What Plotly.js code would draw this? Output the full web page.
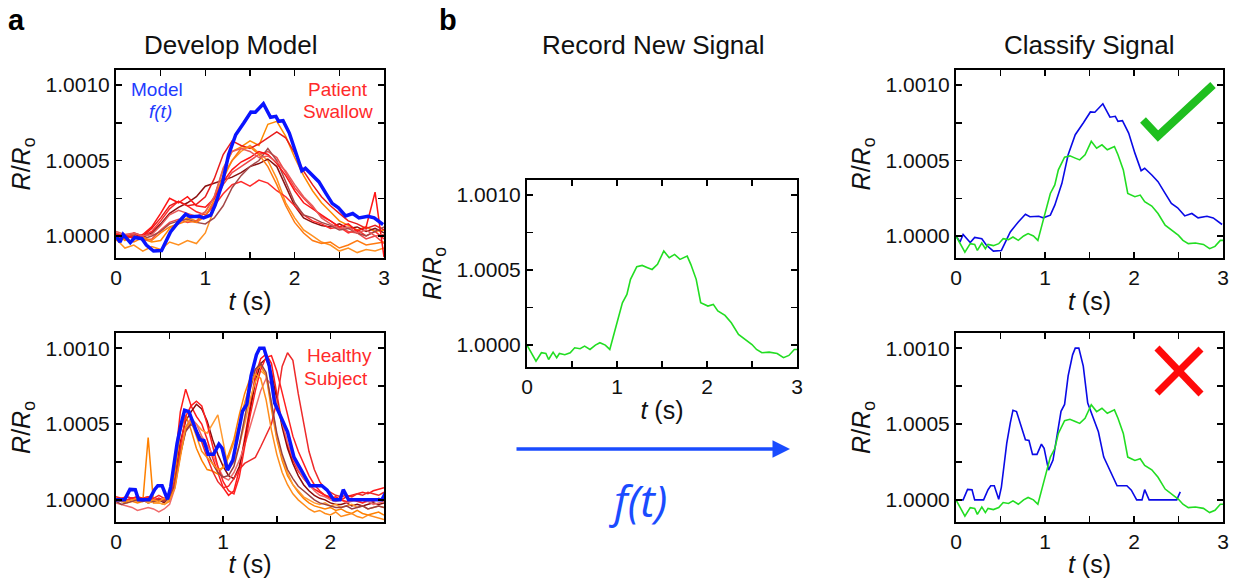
<!DOCTYPE html>
<html><head><meta charset="utf-8">
<script src="https://cdn.plot.ly/plotly-3.0.1.min.js"></script>
<style>html,body{margin:0;padding:0;background:#fff}#chart{width:1233px;height:578px}</style>
</head><body><div id="chart"></div><script>
// ---------- DATA (values in units of 1e-4 above R/Ro = 1) ----------
// Panel a, top: patient swallow recordings
const tA1 = [0,0.1,0.2,0.3,0.4,0.5,0.6,0.7,0.8,0.9,1.0,1.1,1.2,1.3,1.4,1.5,1.6,1.7,1.8,1.9,2.0,2.1,2.2,2.3,2.4,2.5,2.6,2.7,2.8,2.9,3.0];
const patient1 = [0.2,-0.3,0.1,-0.2,-0.4,-0.3,0.5,0.9,1.2,1.0,1.6,2.6,4.4,5.6,5.9,6.3,6.0,7.4,7.6,6.6,5.2,4.0,3.0,2.2,1.6,1.0,0.7,0.4,0.6,0.3,0.4];
const patient2 = [-0.2,-0.8,-0.6,-1.0,-0.7,-0.9,-0.4,-0.6,-0.3,-0.5,0.2,1.8,3.8,5.0,5.6,6.0,5.5,5.0,3.8,2.2,1.2,0.4,0.0,-0.4,-0.6,-1.0,-0.8,-1.1,-0.9,-1.0,-0.8];
const patient3 = [0.1,0.0,0.1,-0.1,0.2,0.8,1.5,1.9,2.2,2.6,3.3,3.5,3.7,3.9,4.2,4.6,4.8,5.1,4.6,3.3,2.0,1.2,0.9,0.7,0.6,0.8,0.5,0.6,0.3,0.5,0.2];
const patient4 = [-0.1,0.1,-0.2,0.0,0.3,1.0,1.8,2.3,2.0,1.6,1.4,2.0,2.8,3.4,3.6,3.3,3.7,3.5,3.0,2.6,2.0,1.4,1.0,0.8,0.5,0.6,0.2,0.4,0.0,0.3,-0.2];
const patient5 = [0.0,-0.2,0.2,0.0,0.5,1.2,2.0,2.3,2.0,2.1,2.6,3.8,5.4,6.3,6.0,5.8,6.1,6.5,6.9,6.5,5.5,4.3,3.4,2.6,2.0,1.5,1.0,0.8,0.5,0.7,0.4];
const patient6 = [0.2,0.0,0.1,-0.3,-0.2,0.4,0.9,1.1,0.9,1.0,1.3,2.2,3.4,4.2,4.6,5.0,5.4,5.6,5.2,4.2,3.2,2.5,1.9,1.3,1.0,0.6,0.3,0.2,-0.2,0.0,-0.5];
const patient7 = [0.0,-0.1,0.0,-0.2,0.0,0.3,0.8,1.0,1.1,0.9,0.8,1.2,2.0,3.2,4.0,4.6,5.0,5.8,5.0,3.6,2.2,1.4,1.2,0.9,0.7,0.4,0.5,0.2,0.0,0.3,0.6];
const patient8 = [-0.3,-0.2,-0.4,-0.1,-0.3,0.2,0.6,0.8,1.0,0.9,1.3,2.4,4.0,5.0,5.8,5.9,5.4,4.6,3.4,2.0,0.9,0.2,-0.3,-0.5,-0.4,-0.8,-0.6,-0.3,-0.6,-0.5,-0.4];
const patient9 = [0.1,0.0,-0.1,0.1,0.6,1.5,2.5,2.2,2.6,2.0,1.9,2.5,3.6,4.4,4.9,5.2,5.6,5.4,4.8,4.0,3.0,2.2,1.8,1.4,1.0,0.6,0.8,0.3,0.6,2.9,-1.4];
const patient10 = [0.3,0.1,0.2,0.0,0.1,0.7,1.4,1.7,1.5,1.3,1.6,2.6,4.5,5.6,5.8,5.6,5.2,5.3,4.9,4.3,3.4,2.6,2.0,1.2,0.8,0.5,0.6,0.2,0.4,0.0,0.1];
const patientSeries = [patient1,patient2,patient3,patient4,patient5,patient6,patient7,patient8,patient9,patient10];
const patientColors = ['#ff8a00','#ff9020','#8b1010','#ff2a2a','#e81c1c','#f04848','#a34848','#ff7a10','#ff1414','#e85a5a'];

// Model f(t) for patient swallow
const tModelP = [0,0.045,0.08,0.16,0.21,0.29,0.34,0.42,0.51,0.61,0.70,0.78,0.83,0.93,0.98,1.06,1.11,1.19,1.26,1.34,1.43,1.51,1.56,1.65,1.73,1.79,1.82,1.87,1.94,2.01,2.08,2.12,2.20,2.27,2.35,2.42,2.49,2.57,2.65,2.72,2.82,2.89,2.99];
const modelP = [0,-0.4,0.1,-0.44,-0.1,-0.18,-0.6,-1.0,-0.96,0.27,0.93,1.44,1.27,1.31,1.2,1.38,2.04,3.49,5.38,6.71,7.49,8.22,8.2,8.76,7.87,7.93,7.6,7.64,6.82,5.49,4.33,4.49,4.04,3.6,2.82,2.16,1.87,1.33,1.49,1.2,1.31,1.2,0.76];

// Panel a, bottom: healthy subject recordings
const tA2 = [0,0.05,0.1,0.15,0.2,0.25,0.3,0.35,0.4,0.45,0.5,0.55,0.6,0.65,0.7,0.75,0.8,0.85,0.9,0.95,1.0,1.05,1.1,1.15,1.2,1.25,1.3,1.35,1.4,1.45,1.5,1.55,1.6,1.65,1.7,1.75,1.8,1.85,1.9,1.95,2.0,2.05,2.1,2.15,2.2,2.25,2.3,2.35,2.4,2.45,2.5];
const healthy1 = [0.2,0.1,0.2,0.1,0.2,0.1,0.2,0.0,0.1,-0.1,0.3,2.5,5.8,7.3,6.2,5.5,5.0,4.0,2.8,1.8,0.8,0.3,0.6,2.0,4.0,6.2,8.2,9.3,9.6,9.0,7.0,5.0,3.6,2.6,1.9,1.4,1.0,0.7,0.5,0.3,0.1,0.2,0.0,0.2,0.3,0.4,0.5,0.4,0.6,0.7,0.8];
const healthy2 = [0.0,-0.1,0.0,0.1,-0.1,0.0,-0.2,-0.1,0.0,-0.2,0.2,1.5,3.8,5.2,5.8,6.3,6.0,5.2,4.0,3.0,2.2,1.6,1.4,2.2,3.8,5.8,7.8,9.0,9.3,8.4,6.5,4.8,3.4,2.4,1.6,1.0,0.6,0.3,0.1,0.0,-0.2,-0.3,-0.3,-0.2,-0.4,-0.3,-0.4,-0.3,-0.2,-0.3,-0.2];
const healthy3 = [0.0,-0.1,-0.2,-0.1,-0.2,-0.1,4.1,-0.2,-0.2,-0.3,-0.1,1.8,4.5,5.6,4.6,3.4,2.6,2.0,1.9,1.7,2.2,3.0,4.0,5.6,7.0,8.0,8.6,8.8,8.2,6.0,4.0,2.6,1.6,1.0,0.5,0.1,-0.2,-0.4,-0.5,-0.6,-0.5,-0.7,-0.6,-0.8,-0.9,-0.7,-0.9,-1.0,-0.9,-0.8,-1.0];
const healthy4 = [0.0,0.1,-0.1,0.0,-0.1,0.0,-0.2,-0.1,-0.2,-0.3,0.0,1.0,3.0,4.6,5.2,5.0,4.6,4.4,5.0,5.6,3.8,2.0,2.5,3.6,5.0,6.6,7.8,8.5,8.2,6.4,4.2,2.8,1.8,1.0,0.6,0.2,0.0,-0.2,-0.3,-0.2,-0.4,-0.3,-0.5,-0.4,-0.3,-0.5,-0.4,-0.6,-0.5,-0.4,-0.5];
const healthy5 = [0.1,0.0,0.2,0.1,0.0,0.1,0.2,0.1,0.3,0.1,0.2,1.2,3.2,4.6,5.0,4.6,3.8,2.8,1.9,1.2,0.8,0.9,1.4,2.0,2.4,2.6,2.8,3.5,4.2,5.0,6.5,8.8,9.7,9.2,7.0,5.0,3.2,2.0,1.2,0.7,0.5,0.3,0.2,0.3,0.2,0.4,0.3,0.5,0.4,0.3,0.5];
const healthy6 = [-0.2,-0.3,-0.4,-0.5,-0.7,-0.6,-0.5,-0.6,-0.8,-0.6,-0.3,0.8,3.0,4.8,5.4,5.0,4.2,3.6,3.0,2.2,1.5,1.3,1.8,2.6,3.6,4.8,6.0,7.2,8.0,7.6,6.4,5.0,3.8,2.8,2.0,1.4,1.0,0.6,0.3,0.2,0.0,-0.1,0.0,-0.2,-0.1,0.0,-0.2,-0.1,-0.3,-0.2,-0.1];
const healthy7 = [0.0,0.1,0.0,0.1,0.2,0.0,0.1,0.0,0.1,0.0,0.2,1.0,3.5,5.5,6.2,6.5,6.2,5.0,3.5,2.2,1.2,0.6,0.4,1.5,3.5,5.5,7.2,8.6,9.4,9.5,8.5,7.0,5.5,4.2,3.2,2.4,1.6,1.0,0.6,0.3,0.2,0.1,0.0,-0.1,0.0,-0.1,-0.2,0.0,-0.1,0.1,0.0];
const healthy8 = [-0.1,-0.3,-0.2,-0.1,0.0,-0.1,0.0,-0.1,0.0,-0.1,0.1,1.0,3.0,4.5,5.0,4.6,4.0,3.2,2.4,1.8,1.5,1.6,2.2,3.6,5.4,7.2,8.6,9.0,8.4,6.4,4.4,3.0,2.0,1.4,0.9,0.6,0.3,0.0,-0.2,-0.3,-0.4,-0.5,-0.5,-0.4,-0.6,-0.5,-0.4,-0.6,-0.5,-0.4,-0.5];
const healthy9 = [0.1,0.0,-0.1,0.0,0.1,0.0,-0.1,0.0,-0.1,0.1,0.0,0.8,2.8,4.8,5.2,4.2,3.2,2.8,2.4,2.0,2.1,2.8,3.8,5.0,6.4,7.6,8.3,8.0,6.6,4.6,3.0,1.8,1.0,0.4,0.0,-0.3,-0.6,-0.8,-0.7,-0.9,-1.0,-0.8,-1.1,-1.0,-0.9,-1.1,-1.2,-1.0,-1.1,-1.2,-1.3];
const healthySeries = [healthy1,healthy2,healthy3,healthy4,healthy5,healthy6,healthy7,healthy8,healthy9];
const healthyColors = ['#ff1a1a','#8b0a0a','#ff8000','#ff9a30','#ee2a2a','#f06a6a','#ff2020','#9a4040','#ff8c1a'];

// Model f(t) for healthy subject
const tModelH = [0,0.08,0.13,0.18,0.21,0.31,0.36,0.39,0.43,0.48,0.51,0.57,0.61,0.64,0.68,0.73,0.78,0.82,0.86,0.91,0.96,0.99,1.04,1.09,1.13,1.18,1.22,1.26,1.31,1.34,1.38,1.43,1.48,1.53,1.60,1.66,1.71,1.75,1.81,1.92,1.97,2.03,2.09,2.12,2.17,2.48,2.52];
const modelH = [0,0,0.69,0.67,0,0,0.67,0.93,0.93,0.04,0.84,3.73,5.07,5.91,5.82,4.84,3.96,3.91,3.0,3.0,3.67,3.4,1.96,2.62,4.07,5.84,6.29,8.18,9.56,10,10,8.82,6.38,5.6,4.49,2.82,2.16,1.71,0.93,0.93,0.64,0,0,0.67,0,0,0.53];

// Panel b: new recorded signal
const tNew = [0,0.045,0.10,0.16,0.21,0.24,0.29,0.33,0.36,0.42,0.48,0.53,0.59,0.64,0.70,0.76,0.81,0.87,0.92,0.97,1.01,1.06,1.11,1.15,1.22,1.28,1.34,1.39,1.45,1.52,1.58,1.64,1.70,1.78,1.82,1.88,1.93,2.01,2.07,2.12,2.20,2.27,2.35,2.42,2.50,2.55,2.61,2.69,2.78,2.85,2.91,2.97,3.0];
const newSignal = [0,-0.51,-1.07,-0.51,-0.56,-0.96,-0.47,-0.84,-0.56,-0.64,-0.51,-0.18,-0.24,-0.07,-0.29,0,0.16,0,-0.29,0.82,1.71,2.82,3.38,4.38,5.22,5.31,5.16,5.04,5.38,6.27,5.82,6.04,5.71,5.93,5.38,4.38,2.82,2.6,2.71,2.27,1.98,1.49,0.71,0.38,0.04,-0.29,-0.51,-0.47,-0.56,-0.84,-0.69,-0.29,-0.29];

// ---------- helpers ----------
const toR = arr => arr.map(v => 1 + v * 1e-4);
const W = 1233, H = 578;
const px = x => x / W;
const py = y => 1 - y / H;
const FONT = 'Liberation Sans, Arial, sans-serif';

const traces = [];
patientSeries.forEach((s, i) => traces.push({x: tA1, y: toR(s), xaxis: 'x', yaxis: 'y', mode: 'lines', line: {color: patientColors[i], width: 1.5}, hoverinfo: 'skip'}));
traces.push({x: tModelP, y: toR(modelP), xaxis: 'x', yaxis: 'y', mode: 'lines', line: {color: '#0a14ff', width: 3.5}});
healthySeries.forEach((s, i) => traces.push({x: tA2, y: toR(s), xaxis: 'x2', yaxis: 'y2', mode: 'lines', line: {color: healthyColors[i], width: 1.5}, hoverinfo: 'skip'}));
traces.push({x: tModelH, y: toR(modelH), xaxis: 'x2', yaxis: 'y2', mode: 'lines', line: {color: '#0a14ff', width: 3.5}});
traces.push({x: tNew, y: toR(newSignal), xaxis: 'x3', yaxis: 'y3', mode: 'lines', line: {color: '#22dd22', width: 1.6}});
traces.push({x: tModelP, y: toR(modelP), xaxis: 'x4', yaxis: 'y4', mode: 'lines', line: {color: '#0a0ae6', width: 1.6}});
traces.push({x: tNew, y: toR(newSignal), xaxis: 'x4', yaxis: 'y4', mode: 'lines', line: {color: '#22dd22', width: 1.6}});
traces.push({x: tModelH, y: toR(modelH), xaxis: 'x5', yaxis: 'y5', mode: 'lines', line: {color: '#0a0ae6', width: 1.6}});
traces.push({x: tNew, y: toR(newSignal), xaxis: 'x5', yaxis: 'y5', mode: 'lines', line: {color: '#22dd22', width: 1.6}});

const common = {
  showline: true, linecolor: 'black', linewidth: 2, mirror: 'allticks',
  ticks: 'inside', ticklen: 6, tickwidth: 1.5, tickcolor: 'black',
  showgrid: false, zeroline: false, fixedrange: true,
  tickfont: {size: 21, color: '#111', family: FONT}
};
function xax(l, r, anchor, range) {
  return Object.assign({}, common, {
    domain: [px(l), px(r)], anchor: anchor, range: range,
    tick0: 0, dtick: 1,
    minor: {dtick: 0.5, ticks: 'inside', ticklen: 6, tickwidth: 1.5, tickcolor: 'black', showgrid: false},
    title: {text: '<i>t</i> (s)', font: {size: 25, color: '#111', family: FONT}, standoff: 4}
  });
}
function yax(top, bottom, anchor) {
  return Object.assign({}, common, {
    domain: [py(bottom), py(top)], anchor: anchor, range: [0.999854, 1.0011],
    tick0: 1, dtick: 0.0005, tickformat: '.4f',
    minor: {dtick: 0.00025, ticks: 'inside', ticklen: 6, tickwidth: 1.5, tickcolor: 'black', showgrid: false},
    title: {text: '<i>R</i>/<i>R</i><sub>o</sub>', font: {size: 25, color: '#111', family: FONT}, standoff: 8}
  });
}

const blueTxt = '#1f3cff', redTxt = '#ff2a2a';
const ann = (x, y, text, size, color, extra) => Object.assign({xref: 'paper', yref: 'paper', x: px(x), y: py(y), text: text, showarrow: false, font: {size: size, color: color, family: FONT}, xanchor: 'center', yanchor: 'middle'}, extra || {});

const layout = {
  width: W, height: H, margin: {l: 0, r: 0, t: 0, b: 0},
  paper_bgcolor: 'white', plot_bgcolor: 'white', showlegend: false,
  font: {family: FONT, color: '#111'},
  xaxis: xax(116, 384, 'y', [0, 3]),   yaxis: yax(70, 258, 'x'),
  xaxis2: xax(116, 384, 'y2', [0, 2.5]), yaxis2: yax(333, 522, 'x2'),
  xaxis3: xax(527, 797, 'y3', [0, 3]), yaxis3: yax(180, 367, 'x3'),
  xaxis4: xax(956, 1223, 'y4', [0, 3]), yaxis4: yax(70, 258, 'x4'),
  xaxis5: xax(956, 1223, 'y5', [0, 3]), yaxis5: yax(333, 522, 'x5'),
  annotations: [
    ann(16, 20, '<b>a</b>', 29, '#000'),
    ann(448, 20, '<b>b</b>', 29, '#000'),
    ann(230, 45, 'Develop Model', 26, '#111'),
    ann(653, 45, 'Record New Signal', 26, '#111'),
    ann(1089, 45, 'Classify Signal', 26, '#111'),
    ann(157, 89, 'Model', 19, blueTxt),
    ann(160, 112, '<i>f(t)</i>', 19, blueTxt),
    ann(338, 89, 'Patient', 19, redTxt),
    ann(338, 112, 'Swallow', 19, redTxt),
    ann(339, 355, 'Healthy', 19, redTxt),
    ann(336, 378, 'Subject', 19, redTxt),
    ann(638, 500, '<i>f(t)</i>', 44, '#1a4cff', {font: {size: 44, color: '#1a4cff', family: 'Open Sans, Noto Sans, sans-serif'}}),
    {xref: 'paper', yref: 'paper', x: px(790), y: py(449), ax: px(515), ay: py(449), axref: 'paper', ayref: 'paper',
     showarrow: true, arrowhead: 2, arrowsize: 1, arrowwidth: 3.5, arrowcolor: '#1a4cff', text: ''}
  ],
  shapes: [
    {type: 'path', xref: 'paper', yref: 'paper',
     path: `M ${px(1143)} ${py(120)} L ${px(1158)} ${py(136)} L ${px(1213)} ${py(85)}`,
     line: {color: '#1fbf1f', width: 8}},
    {type: 'line', xref: 'paper', yref: 'paper', x0: px(1157), y0: py(348), x1: px(1201), y1: py(394), line: {color: '#ff0a0a', width: 7}},
    {type: 'line', xref: 'paper', yref: 'paper', x0: px(1201), y0: py(349), x1: px(1157), y1: py(393), line: {color: '#ff0a0a', width: 7}}
  ]
};

Plotly.newPlot('chart', traces, layout, {staticPlot: true, displayModeBar: false});
</script></body></html>
